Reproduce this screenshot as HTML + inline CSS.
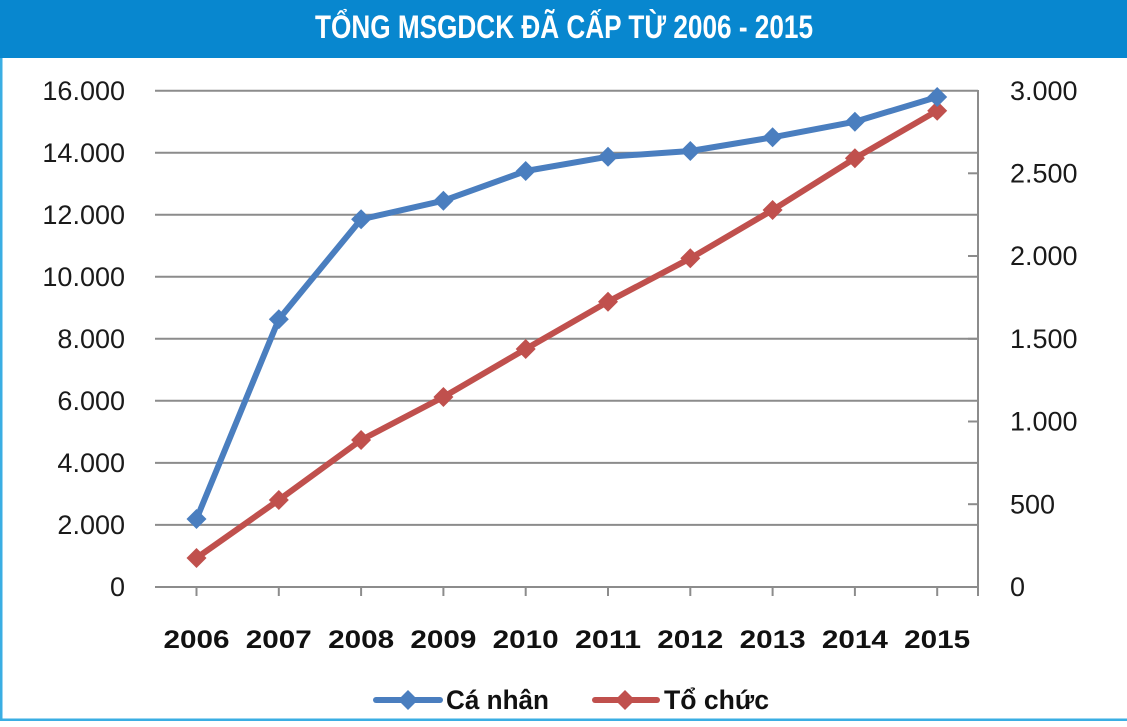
<!DOCTYPE html>
<html>
<head>
<meta charset="utf-8">
<style>
  html, body { margin: 0; padding: 0; background: #ffffff; }
  body { width: 1127px; height: 727px; overflow: hidden; }
  svg { display: block; }
</style>
</head>
<body>
<svg width="1127" height="727" viewBox="0 0 1127 727" xmlns="http://www.w3.org/2000/svg">
  <rect x="0" y="0" width="1127" height="727" fill="#ffffff"/>
  <!-- header -->
  <rect x="0" y="0" width="1127" height="58" fill="#0887cf"/>
  <text x="315" y="38" font-family="Liberation Sans, sans-serif" font-weight="bold" font-size="32" fill="#ffffff" textLength="498" lengthAdjust="spacingAndGlyphs">TỔNG MSGDCK ĐÃ CẤP TỪ 2006 - 2015</text>
  <!-- borders -->
  <rect x="0" y="58" width="2.5" height="663" fill="#3aaee3"/>
  <rect x="0" y="718.5" width="1127" height="2.5" fill="#3aaee3"/>

  <!-- gridlines -->
  <g stroke="#8c8c8c" stroke-width="2">
    <line x1="155" y1="90.7" x2="978" y2="90.7"/>
    <line x1="155" y1="152.7" x2="978" y2="152.7"/>
    <line x1="155" y1="214.8" x2="978" y2="214.8"/>
    <line x1="155" y1="276.8" x2="978" y2="276.8"/>
    <line x1="155" y1="338.8" x2="978" y2="338.8"/>
    <line x1="155" y1="400.8" x2="978" y2="400.8"/>
    <line x1="155" y1="462.9" x2="978" y2="462.9"/>
    <line x1="155" y1="524.9" x2="978" y2="524.9"/>
    <line x1="155" y1="587" x2="978" y2="587"/>
    <!-- right axis -->
    <line x1="978" y1="90" x2="978" y2="596"/>
    <!-- right axis ticks -->
    <line x1="968" y1="173.3" x2="978" y2="173.3"/>
    <line x1="968" y1="256" x2="978" y2="256"/>
    <line x1="968" y1="338.8" x2="978" y2="338.8"/>
    <line x1="968" y1="421.5" x2="978" y2="421.5"/>
    <line x1="968" y1="504.2" x2="978" y2="504.2"/>
    <!-- x ticks -->
    <line x1="196.5" y1="587" x2="196.5" y2="596"/>
    <line x1="278.8" y1="587" x2="278.8" y2="596"/>
    <line x1="361.1" y1="587" x2="361.1" y2="596"/>
    <line x1="443.4" y1="587" x2="443.4" y2="596"/>
    <line x1="525.7" y1="587" x2="525.7" y2="596"/>
    <line x1="608" y1="587" x2="608" y2="596"/>
    <line x1="690.3" y1="587" x2="690.3" y2="596"/>
    <line x1="772.6" y1="587" x2="772.6" y2="596"/>
    <line x1="854.9" y1="587" x2="854.9" y2="596"/>
    <line x1="937.2" y1="587" x2="937.2" y2="596"/>
  </g>

  <!-- left axis labels -->
  <g font-family="Liberation Sans, sans-serif" font-size="27" fill="#1a1a1a" text-anchor="end">
    <text x="125" y="100">16.000</text>
    <text x="125" y="162">14.000</text>
    <text x="125" y="224">12.000</text>
    <text x="125" y="286">10.000</text>
    <text x="125" y="348">8.000</text>
    <text x="125" y="410">6.000</text>
    <text x="125" y="472">4.000</text>
    <text x="125" y="534">2.000</text>
    <text x="125" y="596">0</text>
  </g>
  <!-- right axis labels -->
  <g font-family="Liberation Sans, sans-serif" font-size="27" fill="#1a1a1a" text-anchor="start">
    <text x="1010" y="100">3.000</text>
    <text x="1010" y="182.5">2.500</text>
    <text x="1010" y="265.2">2.000</text>
    <text x="1010" y="348">1.500</text>
    <text x="1010" y="430.7">1.000</text>
    <text x="1010" y="513.4">500</text>
    <text x="1010" y="596">0</text>
  </g>
  <!-- x labels -->
  <g font-family="Liberation Sans, sans-serif" font-size="25" font-weight="bold" fill="#111111">
    <text x="163.5" y="648" textLength="66" lengthAdjust="spacingAndGlyphs">2006</text>
    <text x="245.8" y="648" textLength="66" lengthAdjust="spacingAndGlyphs">2007</text>
    <text x="328.1" y="648" textLength="66" lengthAdjust="spacingAndGlyphs">2008</text>
    <text x="410.4" y="648" textLength="66" lengthAdjust="spacingAndGlyphs">2009</text>
    <text x="492.7" y="648" textLength="66" lengthAdjust="spacingAndGlyphs">2010</text>
    <text x="575" y="648" textLength="66" lengthAdjust="spacingAndGlyphs">2011</text>
    <text x="657.3" y="648" textLength="66" lengthAdjust="spacingAndGlyphs">2012</text>
    <text x="739.6" y="648" textLength="66" lengthAdjust="spacingAndGlyphs">2013</text>
    <text x="821.9" y="648" textLength="66" lengthAdjust="spacingAndGlyphs">2014</text>
    <text x="904.2" y="648" textLength="66" lengthAdjust="spacingAndGlyphs">2015</text>
  </g>

  <defs>
    <path id="dia" d="M0,-10 L10,0 L0,10 L-10,0 Z"/>
  </defs>

  <!-- Tổ chức (red) -->
  <polyline fill="none" stroke="#c0504d" stroke-width="6" stroke-linejoin="round"
    points="196.5,558 278.8,500 361.1,440 443.4,397 525.7,349 608,301.7 690.3,258.3 772.6,210 854.9,158.3 937.2,110.7"/>
  <g fill="#c0504d">
    <use href="#dia" x="196.5" y="558"/>
    <use href="#dia" x="278.8" y="500"/>
    <use href="#dia" x="361.1" y="440"/>
    <use href="#dia" x="443.4" y="397"/>
    <use href="#dia" x="525.7" y="349"/>
    <use href="#dia" x="608" y="301.7"/>
    <use href="#dia" x="690.3" y="258.3"/>
    <use href="#dia" x="772.6" y="210"/>
    <use href="#dia" x="854.9" y="158.3"/>
    <use href="#dia" x="937.2" y="110.7"/>
  </g>

  <!-- Cá nhân (blue) -->
  <polyline fill="none" stroke="#4a7ebf" stroke-width="6" stroke-linejoin="round"
    points="196.5,519 278.8,319.3 361.1,219.3 443.4,200.7 525.7,171 608,156.7 690.3,151 772.6,137.3 854.9,121.7 937.2,97"/>
  <g fill="#4a7ebf">
    <use href="#dia" x="196.5" y="519"/>
    <use href="#dia" x="278.8" y="319.3"/>
    <use href="#dia" x="361.1" y="219.3"/>
    <use href="#dia" x="443.4" y="200.7"/>
    <use href="#dia" x="525.7" y="171"/>
    <use href="#dia" x="608" y="156.7"/>
    <use href="#dia" x="690.3" y="151"/>
    <use href="#dia" x="772.6" y="137.3"/>
    <use href="#dia" x="854.9" y="121.7"/>
    <use href="#dia" x="937.2" y="97"/>
  </g>

  <!-- legend -->
  <line x1="376" y1="700" x2="440" y2="700" stroke="#4a7ebf" stroke-width="6" stroke-linecap="round"/>
  <use href="#dia" x="408" y="700" fill="#4a7ebf"/>
  <text x="446" y="709" font-family="Liberation Sans, sans-serif" font-size="27" font-weight="bold" fill="#111111" textLength="103" lengthAdjust="spacingAndGlyphs">Cá nhân</text>
  <line x1="595" y1="700" x2="657" y2="700" stroke="#c0504d" stroke-width="6" stroke-linecap="round"/>
  <use href="#dia" x="625" y="700" fill="#c0504d"/>
  <text x="664" y="709" font-family="Liberation Sans, sans-serif" font-size="27" font-weight="bold" fill="#111111" textLength="105" lengthAdjust="spacingAndGlyphs">Tổ chức</text>
</svg>
</body>
</html>
